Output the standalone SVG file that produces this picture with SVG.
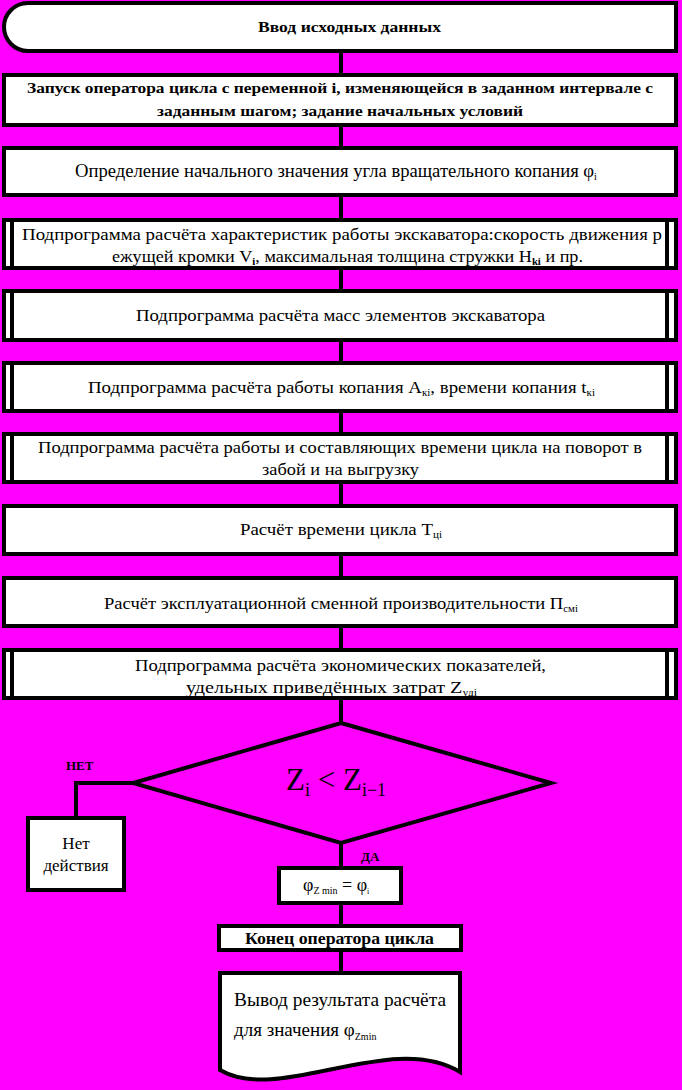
<svg xmlns="http://www.w3.org/2000/svg" width="682" height="1090" viewBox="0 0 682 1090">
<style>
.bx{fill:#fff;stroke:#000;stroke-width:4}
.ln{stroke:#000;stroke-width:4;fill:none}
</style>
<rect x="0" y="0" width="682" height="1090" fill="#ff00ff"/>
<g id="connectors">
<line class="ln" x1="341" y1="51" x2="341" y2="75"/>
<line class="ln" x1="341" y1="125" x2="341" y2="148"/>
<line class="ln" x1="341" y1="195" x2="341" y2="220"/>
<line class="ln" x1="341" y1="268" x2="341" y2="291"/>
<line class="ln" x1="341" y1="340" x2="341" y2="363"/>
<line class="ln" x1="341" y1="411" x2="341" y2="434"/>
<line class="ln" x1="341" y1="482" x2="341" y2="506"/>
<line class="ln" x1="341" y1="554" x2="341" y2="578"/>
<line class="ln" x1="341" y1="626" x2="341" y2="650"/>
<line class="ln" x1="341" y1="698" x2="341" y2="723"/>
<line class="ln" x1="341" y1="843" x2="341" y2="868"/>
<line class="ln" x1="341" y1="903" x2="341" y2="926"/>
<line class="ln" x1="341" y1="950" x2="341" y2="973"/>
<polyline class="ln" points="133,783 76,783 76,818"/>
<text x="66" y="770" font-family="Liberation Serif" font-size="13" font-weight="bold">НЕТ</text>
<text x="361" y="861" font-family="Liberation Serif" font-size="13" font-weight="bold">ДА</text>
</g>
<g id="start">
<path class="bx" d="M28,3 H676 V51 H28 A24,24 0 0 1 4,27 A24,24 0 0 1 28,3 Z"/>
<text x="258" y="32" font-family="Liberation Serif" font-size="15" font-weight="bold" textLength="183" lengthAdjust="spacingAndGlyphs">Ввод исходных данных</text>
</g>
<g id="loop-start">
<rect class="bx" x="4" y="75" width="672" height="50"/>
<text x="27" y="93" font-family="Liberation Serif" font-size="15" font-weight="bold" textLength="626" lengthAdjust="spacingAndGlyphs">Запуск оператора цикла с переменной i, изменяющейся в заданном интервале с</text>
<text x="157" y="116" font-family="Liberation Serif" font-size="15" font-weight="bold" textLength="366" lengthAdjust="spacingAndGlyphs">заданным шагом; задание начальных условий</text>
</g>
<g id="init-angle">
<rect class="bx" x="4" y="148" width="672" height="47"/>
<text x="75" y="177" font-family="Liberation Serif" font-size="18" textLength="522" lengthAdjust="spacingAndGlyphs">Определение начального значения угла вращательного копания φ<tspan font-size="10" dy="3">i</tspan></text>
</g>
<g id="sub-characteristics">
<rect class="bx" x="4" y="220" width="672" height="48"/>
<line class="ln" x1="12" y1="220" x2="12" y2="268"/>
<line class="ln" x1="667" y1="220" x2="667" y2="268"/>
<text x="22" y="240" font-family="Liberation Serif" font-size="17" textLength="640" lengthAdjust="spacingAndGlyphs">Подпрограмма расчёта характеристик работы экскаватора:скорость движения р</text>
<text x="112" y="262" font-family="Liberation Serif" font-size="17" textLength="471" lengthAdjust="spacingAndGlyphs">ежущей кромки V<tspan font-size="10" dy="3" font-weight="bold">i</tspan><tspan dy="-3">, максимальная толщина стружки H</tspan><tspan font-size="10" dy="3" font-weight="bold">ki</tspan><tspan dy="-3"> и пр.</tspan></text>
</g>
<g id="sub-masses">
<rect class="bx" x="4" y="291" width="672" height="49"/>
<line class="ln" x1="12" y1="291" x2="12" y2="340"/>
<line class="ln" x1="667" y1="291" x2="667" y2="340"/>
<text x="136" y="321" font-family="Liberation Serif" font-size="17" textLength="409" lengthAdjust="spacingAndGlyphs">Подпрограмма расчёта масс элементов экскаватора</text>
</g>
<g id="sub-digging">
<rect class="bx" x="4" y="363" width="672" height="48"/>
<line class="ln" x1="12" y1="363" x2="12" y2="411"/>
<line class="ln" x1="667" y1="363" x2="667" y2="411"/>
<text x="88" y="393" font-family="Liberation Serif" font-size="17" textLength="507" lengthAdjust="spacingAndGlyphs">Подпрограмма расчёта работы копания A<tspan font-size="10" dy="3">кi</tspan><tspan dy="-3">, времени копания t</tspan><tspan font-size="10" dy="3">кi</tspan></text>
</g>
<g id="sub-rotation">
<rect class="bx" x="4" y="434" width="672" height="48"/>
<line class="ln" x1="12" y1="434" x2="12" y2="482"/>
<line class="ln" x1="667" y1="434" x2="667" y2="482"/>
<text x="38" y="453" font-family="Liberation Serif" font-size="17" textLength="604" lengthAdjust="spacingAndGlyphs">Подпрограмма расчёта работы и составляющих времени цикла на поворот в</text>
<text x="262" y="475" font-family="Liberation Serif" font-size="17" textLength="157" lengthAdjust="spacingAndGlyphs">забой и на выгрузку</text>
</g>
<g id="cycle-time">
<rect class="bx" x="4" y="506" width="672" height="48"/>
<text x="240" y="535" font-family="Liberation Serif" font-size="17" textLength="202" lengthAdjust="spacingAndGlyphs">Расчёт времени цикла T<tspan font-size="10" dy="3">цi</tspan></text>
</g>
<g id="productivity">
<rect class="bx" x="4" y="578" width="672" height="48"/>
<text x="104" y="609" font-family="Liberation Serif" font-size="17" textLength="474" lengthAdjust="spacingAndGlyphs">Расчёт эксплуатационной сменной производительности П<tspan font-size="10" dy="3">смi</tspan></text>
</g>
<g id="sub-economics">
<rect class="bx" x="4" y="650" width="672" height="48"/>
<line class="ln" x1="12" y1="650" x2="12" y2="698"/>
<line class="ln" x1="667" y1="650" x2="667" y2="698"/>
<text x="135" y="671" font-family="Liberation Serif" font-size="17" textLength="411" lengthAdjust="spacingAndGlyphs">Подпрограмма расчёта экономических показателей,</text>
<text x="186" y="693" font-family="Liberation Serif" font-size="17" textLength="291" lengthAdjust="spacingAndGlyphs">удельных приведённых затрат Z<tspan font-size="10" dy="3">удi</tspan></text>
</g>
<g id="decision">
<polygon class="ln" points="341,723 551,783 341,843 133,783"/>
<text x="286" y="790" font-family="Liberation Serif" font-size="31">Z<tspan font-size="18" dy="6">i</tspan><tspan dy="-6"> &lt; Z</tspan><tspan font-size="18" dy="6">i−1</tspan></text>
</g>
<g id="no-action">
<rect class="bx" x="28" y="818" width="96" height="72"/>
<text x="76" y="849" font-family="Liberation Serif" font-size="17" text-anchor="middle">Нет</text>
<text x="76" y="871" font-family="Liberation Serif" font-size="17" text-anchor="middle">действия</text>
</g>
<g id="assign">
<rect class="bx" x="279" y="868" width="122" height="35"/>
<text x="303" y="891" font-family="Liberation Serif" font-size="18">φ<tspan font-size="10" dy="3">Z min</tspan><tspan dy="-3"> = φ</tspan><tspan font-size="8" dy="3">i</tspan></text>
</g>
<g id="loop-end">
<rect class="bx" x="219" y="926" width="242" height="24"/>
<text x="245" y="944" font-family="Liberation Serif" font-size="16" font-weight="bold" textLength="189" lengthAdjust="spacingAndGlyphs">Конец  оператора цикла</text>
</g>
<g id="output">
<path class="bx" d="M220,973 H460 V1072 C390,1030 280,1105 220,1070 Z"/>
<text x="234" y="1006" font-family="Liberation Serif" font-size="19" textLength="212" lengthAdjust="spacingAndGlyphs">Вывод  результата  расчёта</text>
<text x="234" y="1036" font-family="Liberation Serif" font-size="19">для  значения  φ<tspan font-size="10" dy="4">Zmin</tspan></text>
</g>
</svg>
